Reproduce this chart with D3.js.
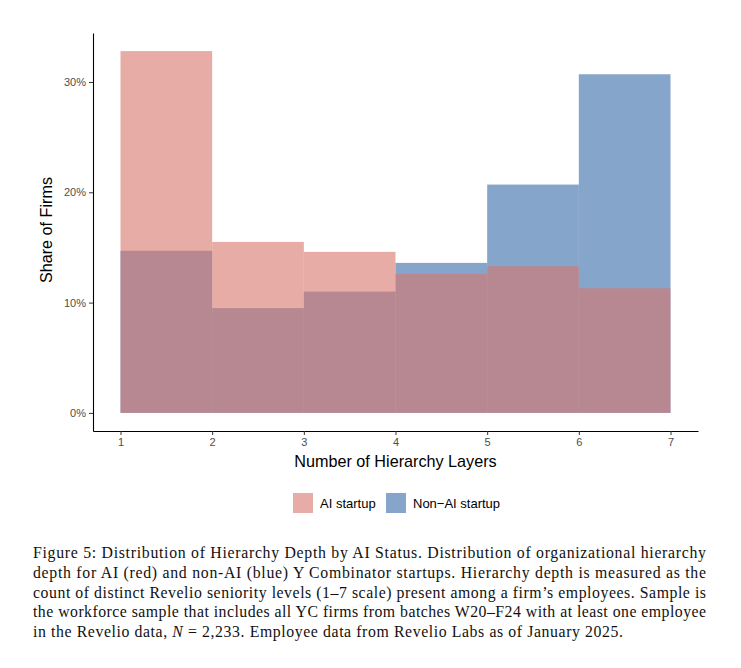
<!DOCTYPE html>
<html>
<head>
<meta charset="utf-8">
<script src="https://cdn.jsdelivr.net/npm/d3@7"></script>
<style>
	body { margin: 0; background: #fff; }
	svg { display: block; }
</style>
</head>
<body>
<svg id="chart" width="741" height="668"></svg>
<script>
// données (part des firmes par nombre de niveaux)
const bins = [1, 2, 3, 4, 5, 6];
const ai = [0.328, 0.155, 0.146, 0.126, 0.133, 0.113];
const nonAi = [0.147, 0.095, 0.110, 0.136, 0.207, 0.307];
const xTicks = [1, 2, 3, 4, 5, 6, 7];
const yTicks = [0, 0.1, 0.2, 0.3];
const groups = ["AI startup", "Non\u2212AI startup"];
const caption = [
	"Figure 5: Distribution of Hierarchy Depth by AI Status. Distribution of organizational hierarchy",
	"depth for AI (red) and non-AI (blue) Y Combinator startups. Hierarchy depth is measured as the",
	"count of distinct Revelio seniority levels (1\u20137 scale) present among a firm\u2019s employees. Sample is",
	"the workforce sample that includes all YC firms from batches W20\u2013F24 with at least one employee"
];

let svg = d3.select("#chart");
let couleurs = {ai: "#d9756b", non: "#3569a7"};
let sans = "'Liberation Sans', Arial, sans-serif";

let x = d3.scaleLinear().domain([0.7, 7.3]).range([93, 698]);
let y = d3.scaleLinear().domain([-0.0164, 0.3444]).range([431, 33]);

// barres : non-AI d'abord, AI par-dessus
let series = [
	{vals: nonAi, col: couleurs.non},
	{vals: ai, col: couleurs.ai}
];
for (let s of series) {
	svg.append("g")
		.selectAll("rect")
		.data(bins.map((b, k) => ({b, v: s.vals[k]})))
		.join("rect")
		.attr("x", d => x(d.b))
		.attr("width", d => x(d.b + 1) - x(d.b))
		.attr("y", d => y(d.v))
		.attr("height", d => y(0) - y(d.v))
		.attr("fill", s.col)
		.attr("fill-opacity", 0.6);
}

// axes
let ax = svg.append("g")
	.attr("transform", `translate(0,${y.range()[0]})`)
	.call(d3.axisBottom(x).tickValues(xTicks).tickFormat(d3.format("d")).tickSize(4).tickSizeOuter(0).tickPadding(3));
let ay = svg.append("g")
	.attr("transform", `translate(${x.range()[0]},0)`)
	.call(d3.axisLeft(y).tickValues(yTicks).tickFormat(d3.format(".0%")).tickSize(4).tickSizeOuter(0).tickPadding(3));
for (let a of [ax, ay]) {
	a.select(".domain").attr("stroke", "#000").attr("stroke-width", 1.1);
	a.selectAll(".tick line").attr("stroke", "#333");
	a.selectAll(".tick text")
		.attr("fill", "#4d4d4d")
		.style("font-family", sans)
		.style("font-size", "11px");
}

// titres d'axes
svg.append("text")
	.attr("x", (x.range()[0] + x.range()[1]) / 2)
	.attr("y", 467)
	.attr("text-anchor", "middle")
	.style("font-family", sans)
	.style("font-size", "16.2px")
	.text("Number of Hierarchy Layers");
svg.append("text")
	.attr("transform", `translate(52,${(y.range()[0] + y.range()[1]) / 2 - 2}) rotate(-90)`)
	.attr("text-anchor", "middle")
	.style("font-family", sans)
	.style("font-size", "16.2px")
	.text("Share of Firms");

// légende
let leg = svg.append("g").attr("transform", "translate(293,493)");
let lx = [0, 93];
groups.forEach((g, k) => {
	let it = leg.append("g").attr("transform", `translate(${lx[k]},0)`);
	it.append("rect")
		.attr("width", 20).attr("height", 20)
		.attr("fill", k === 0 ? couleurs.ai : couleurs.non)
		.attr("fill-opacity", 0.6);
	it.append("text")
		.attr("x", 27).attr("y", 15)
		.style("font-family", sans)
		.style("font-size", "13px")
		.text(g);
});

// légende de figure (justifiée)
let cap = svg.append("g")
	.style("font-family", "'Liberation Serif', 'Times New Roman', serif")
	.style("font-size", "15.8px")
	.attr("fill", "#111");
caption.forEach((l, k) => {
	cap.append("text")
		.attr("x", 33).attr("y", 558 + k * 19.8)
		.attr("textLength", 673)
		.attr("lengthAdjust", "spacing")
		.text(l);
});
let last = cap.append("text")
	.attr("x", 33).attr("y", 558 + 4 * 19.8)
	.attr("textLength", 590)
	.attr("lengthAdjust", "spacing");
last.append("tspan").text("in the Revelio data, ");
last.append("tspan").style("font-style", "italic").text("N");
last.append("tspan").text(" = 2,233. Employee data from Revelio Labs as of January 2025.");
</script>
</body>
</html>
